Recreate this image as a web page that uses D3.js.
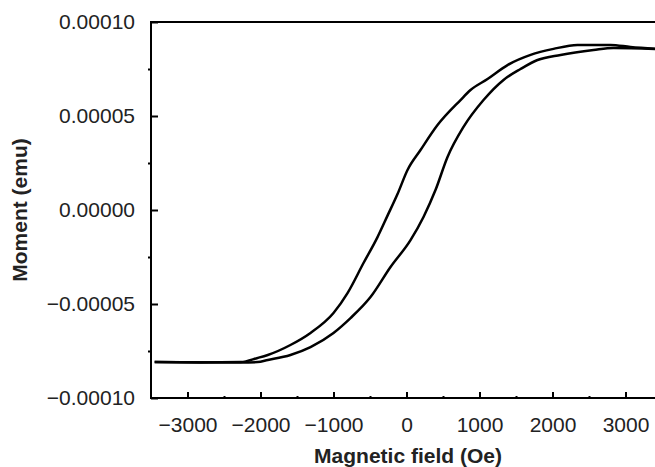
<!DOCTYPE html>
<html>
<head>
<meta charset="utf-8">
<script src="https://cdn.jsdelivr.net/npm/d3@7"></script>
<style>
  body { margin: 0; background: #fff; }
  svg { display: block; }
  .tick text { font-family: "Liberation Sans", Arial, sans-serif; font-size: 21px; fill: #222; }
  .axis-title { font-family: "Liberation Sans", Arial, sans-serif; font-size: 21px; font-weight: bold; fill: #222; }
</style>
</head>
<body>
<svg id="chart"></svg>
<script>
// hysteresis loop
// descending field branch (upper curve), listed by increasing field
const fieldDown = [-3450, -2820, -2270, -2040, -1900, -1590, -1315, -1000, -808, -589, -397, -260, -123, 14, 192, 425, 740, 877, 1110, 1384, 1700, 2014, 2342, 2795, 3068, 3500];
const momentDown = [-8.09e-5, -8.11e-5, -8.09e-5, -7.87e-5, -7.71e-5, -7.18e-5, -6.54e-5, -5.48e-5, -4.42e-5, -2.82e-5, -1.44e-5, -0.30e-5, 0.85e-5, 2.13e-5, 3.19e-5, 4.52e-5, 5.85e-5, 6.38e-5, 6.97e-5, 7.71e-5, 8.25e-5, 8.57e-5, 8.78e-5, 8.78e-5, 8.67e-5, 8.55e-5];
// ascending field branch (lower curve)
const fieldUp = [-3450, -2270, -2040, -1900, -1590, -1315, -1000, -767, -493, -219, 55, 233, 397, 562, 781, 1055, 1329, 1562, 1795, 2110, 2562, 2836, 3500];
const momentUp = [-8.09e-5, -8.11e-5, -8.09e-5, -7.98e-5, -7.71e-5, -7.29e-5, -6.54e-5, -5.75e-5, -4.63e-5, -3.03e-5, -1.60e-5, -0.37e-5, 1.06e-5, 2.82e-5, 4.42e-5, 5.85e-5, 6.92e-5, 7.50e-5, 7.98e-5, 8.25e-5, 8.51e-5, 8.62e-5, 8.55e-5];

const xTicks = [-3000, -2000, -1000, 0, 1000, 2000, 3000];
const xMinor = [-2500, -1500, -500, 500, 1500, 2500];
const yTicks = [-0.0001, -0.00005, 0, 0.00005, 0.0001];
const yMinor = [-0.000075, -0.000025, 0.000025, 0.000075];

const width = 655, height = 467;
const margin = {top: 22, left: 151, bottom: 69};

const svg = d3.select('#chart')
    .attr('width', width)
    .attr('height', height);

const xScale = d3.scaleLinear()
    .domain([-3500, 3500])
    .range([margin.left, margin.left + 511]);

const yScale = d3.scaleLinear()
    .domain([-0.0001, 0.0001])
    .range([height - margin.bottom, margin.top]);

const fmtY = d => {
    const s = Math.abs(d).toFixed(5);
    return d < 0 ? '\u2212' + s : s;
};
const fmtX = d => d < 0 ? '\u2212' + Math.abs(d) : String(d);

// y axis, major ticks point inward, minor ticks outward
const yAxisG = svg.append('g')
    .attr('transform', `translate(${margin.left},0)`)
    .call(d3.axisLeft(yScale).tickValues(yTicks).tickSize(-7).tickPadding(16).tickFormat(fmtY));
yAxisG.select('.domain').remove();

const yMinorG = svg.append('g')
    .attr('transform', `translate(${margin.left},0)`)
    .call(d3.axisLeft(yScale).tickValues(yMinor).tickSize(3).tickFormat(''));
yMinorG.select('.domain').remove();

// x axis
const xAxisG = svg.append('g')
    .attr('transform', `translate(0,${yScale(-0.0001)})`)
    .call(d3.axisBottom(xScale).tickValues(xTicks).tickSize(-6).tickPadding(19).tickFormat(fmtX));
xAxisG.select('.domain').remove();

const xMinorG = svg.append('g')
    .attr('transform', `translate(0,${yScale(-0.0001)})`)
    .call(d3.axisBottom(xScale).tickValues(xMinor).tickSize(-2).tickFormat(''));
xMinorG.select('.domain').remove();

svg.selectAll('.tick line')
    .attr('stroke', '#000')
    .attr('stroke-width', 2);

// frame
svg.append('rect')
    .attr('x', xScale(-3500))
    .attr('y', yScale(0.0001))
    .attr('width', xScale(3500) - xScale(-3500))
    .attr('height', yScale(-0.0001) - yScale(0.0001))
    .attr('fill', 'none')
    .attr('stroke', '#000')
    .attr('stroke-width', 2);

// loop
const line = d3.line()
    .x(d => xScale(d[0]))
    .y(d => yScale(d[1]))
    .curve(d3.curveMonotoneX);

const down = fieldDown.map((f, i) => [f, momentDown[i]]);
const up = fieldUp.map((f, i) => [f, momentUp[i]]);

[down, up].forEach(branch => {
    svg.append('path')
        .datum(branch)
        .attr('d', line)
        .attr('fill', 'none')
        .attr('stroke', '#000')
        .attr('stroke-width', 2.5)
        .attr('stroke-linejoin', 'round');
});

// axis titles
svg.append('text')
    .attr('class', 'axis-title')
    .attr('x', 408)
    .attr('y', 463)
    .attr('text-anchor', 'middle')
    .text('Magnetic field (Oe)');

svg.append('text')
    .attr('class', 'axis-title')
    .attr('transform', `translate(27,${yScale(0)}) rotate(-90)`)
    .attr('text-anchor', 'middle')
    .text('Moment (emu)');
</script>
</body>
</html>
